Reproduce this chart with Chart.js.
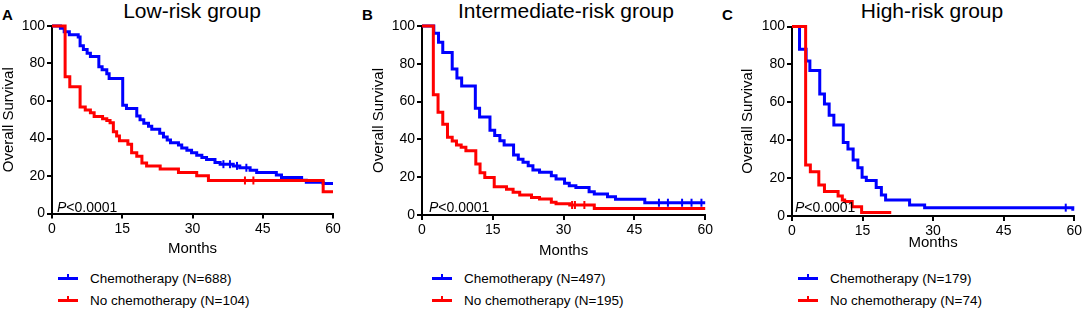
<!DOCTYPE html>
<html lang="en">
<head>
<meta charset="UTF-8">
<title>Overall survival by risk group</title>
<script src="https://cdn.jsdelivr.net/npm/chart.js"></script>
<style>
    * { margin: 0; padding: 0; box-sizing: border-box; }
    body {
        width: 1084px; height: 311px; background: #fff; position: relative; overflow: hidden;
        font-family: Arial, "Liberation Sans", sans-serif; color: #000;
    }
    canvas { position: absolute; top: 0; }
    .letter { position: absolute; top: 7px; font-size: 15px; font-weight: bold; line-height: 1; }
    .title { position: absolute; top: 0; font-size: 21px; line-height: 1; white-space: nowrap; transform: translateX(-50%); }
    .pval { position: absolute; top: 200px; font-size: 14px; line-height: 1; white-space: nowrap; }
    .key { position: absolute; font-size: 13.5px; line-height: 1; white-space: nowrap; }
    .mark { position: absolute; width: 20px; height: 3px; }
    .mark::after { content: ''; position: absolute; left: 9px; top: -3px; width: 2px; height: 4px; background: inherit; }
</style>
</head>
<body>
    <div class="letter" style="left:2px">A</div>
    <div class="title" style="left:192px">Low-risk group</div>
    <div class="letter" style="left:362px">B</div>
    <div class="title" style="left:566px">Intermediate-risk group</div>
    <div class="letter" style="left:722px">C</div>
    <div class="title" style="left:932px">High-risk group</div>

    <canvas id="chartA" width="350" height="264" style="left:0px"></canvas>
    <canvas id="chartB" width="345" height="264" style="left:370px"></canvas>
    <canvas id="chartC" width="345" height="264" style="left:739px"></canvas>

    <div class="pval" style="left:57px"><i>P</i>&lt;0.0001</div>
    <div class="pval" style="left:429px"><i>P</i>&lt;0.0001</div>
    <div class="pval" style="left:795px"><i>P</i>&lt;0.0001</div>

    <div id="legendA"></div>
    <div id="legendB"></div>
    <div id="legendC"></div>

<script>
    const BLUE = '#0000ff';
    const RED = '#ff0000';

    const xTicks = [0, 15, 30, 45, 60];
    const yTicks = [0, 20, 40, 60, 80, 100];

    // A: low-risk
    const lowChemoMonths = [0, 1.8, 2.6, 3.7, 5.6, 6.0, 6.7, 7.5, 8.2, 10.0, 10.7, 11.7, 12.2, 15.1, 15.9, 18.1, 18.8, 19.6, 20.6, 21.3, 23.0, 23.8, 24.6, 25.3, 27.0, 27.7, 28.8, 29.8, 30.9, 32.0, 33.0, 34.8, 35.9, 38.7, 40.1, 42.3, 43.7, 47.9, 49.0, 53.3, 54.3, 57.9, 60];
    const lowChemoSurv = [100, 98.8, 97, 95.3, 94.2, 89.5, 87.5, 85.5, 83.8, 78.3, 76.7, 74.5, 72, 57.8, 56, 52, 50, 48.2, 46.5, 45, 42.8, 40.8, 39.2, 37.8, 36.5, 35, 33.8, 32.4, 31.1, 29.9, 28.8, 27.2, 26.3, 25.4, 24.4, 23.1, 21.9, 20.5, 19.2, 17.8, 16.7, 16.0, 16.0];
    const lowNoMonths = [0, 2.8, 3.8, 6.0, 7.1, 8.2, 9.0, 10.8, 11.7, 12.4, 13.1, 13.8, 14.4, 16.2, 17.0, 18.1, 19.2, 20.2, 23.1, 27.0, 30.9, 33.4, 57.9, 60];
    const lowNoSurv = [100, 72.9, 67.6, 56.8, 55.2, 53.8, 51.8, 50.6, 49.6, 48.4, 43.6, 41.3, 38.8, 37, 32.4, 30.6, 27, 25.4, 23.7, 21.9, 20.1, 17.6, 11.6, 11.6];
    const lowChemoCensMonths = [36.6, 38.0, 39.5, 41.5];
    const lowChemoCensSurv = [26.3, 26.3, 25.4, 24.4];
    const lowNoCensMonths = [41.2, 43.0];
    const lowNoCensSurv = [17.6, 17.6];

    // B: intermediate-risk
    const midChemoMonths = [0, 2.5, 3.5, 4.4, 6.4, 7.4, 8.4, 11.3, 12.2, 14.4, 15.4, 16.5, 17.4, 19.4, 20.4, 21.4, 22.5, 23.5, 24.9, 27.4, 28.4, 30.2, 31.2, 32.6, 35.4, 36.5, 39.3, 41.0, 47.2, 60];
    const midChemoSurv = [100, 96.1, 91.4, 86, 77.3, 72.5, 68.2, 56.5, 51.8, 44.8, 42, 39.3, 37, 31.7, 29.5, 27.9, 26.1, 23.8, 22.6, 20.8, 19, 16.8, 15.5, 14.6, 12.3, 11.1, 9.7, 8.3, 6.5, 6.5];
    const midNoMonths = [0, 2.4, 3.4, 4.4, 5.4, 6.4, 7.3, 8.3, 9.3, 11.4, 12.3, 13.3, 15.3, 17.9, 19.3, 20.7, 23.2, 24.9, 27.4, 28.4, 31.3, 36.5, 60];
    const midNoSurv = [100, 63.6, 54.3, 48, 41.2, 39.2, 37, 35.8, 34, 27, 22.4, 19.8, 15, 13.6, 12, 10.6, 9.3, 8.5, 6.7, 6.0, 5.3, 3.5, 3.5];
    const midChemoCensMonths = [50.2, 52.1, 55.1, 57.1, 59.2];
    const midChemoCensSurv = [6.5, 6.5, 6.5, 6.5, 6.5];
    const midNoCensMonths = [31.8, 32.4, 34.4];
    const midNoCensSurv = [5.3, 5.3, 5.3];

    // C: high-risk
    const highChemoMonths = [0, 1.6, 3.0, 3.8, 5.9, 6.9, 7.9, 8.9, 10.9, 11.9, 13.0, 14.0, 14.9, 15.8, 17.9, 19.0, 19.9, 25.0, 28.2, 59.7, 60];
    const highChemoSurv = [100, 88, 81.8, 76.8, 64.4, 59.1, 53.2, 48, 38.8, 35.4, 29.6, 25.5, 20.4, 18.7, 15.1, 11.1, 8.5, 5.8, 4.4, 3.5, 3.5];
    const highNoMonths = [0, 2.9, 3.9, 5.7, 6.9, 9.8, 10.7, 11.2, 12.8, 14.8, 21.1];
    const highNoSurv = [100, 26.9, 23.4, 16.4, 12.9, 10.6, 8.5, 7.6, 4.9, 1.8, 1.8];
    const highChemoCensMonths = [58.2];
    const highChemoCensSurv = [4.4];

    const FONT = 'Arial, "Liberation Sans", sans-serif';
    Chart.defaults.font.family = FONT;
    Chart.defaults.color = '#000';

    const H = 264;

    function pts(xs, ys) {
        return xs.map((x, i) => ({ x: x, y: ys[i] }));
    }

    function curve(xs, ys, color) {
        return { type: 'line', data: pts(xs, ys), borderColor: color, borderWidth: 3, stepped: 'before',
                 pointRadius: 0, fill: false, clip: false, borderJoinStyle: 'miter' };
    }

    function censored(xs, ys, color) {
        return { type: 'scatter', data: pts(xs, ys), showLine: false, pointStyle: 'line', rotation: 90,
                 pointRadius: 4, pointBorderWidth: 2, borderColor: color, backgroundColor: color, clip: false };
    }

    function makeChart(id, box, datasets) {
        new Chart(document.getElementById(id), {
            type: 'line',
            data: { datasets: datasets },
            options: {
                responsive: false,
                animation: false,
                devicePixelRatio: 1,
                layout: { padding: { top: box.top, right: box.width - (box.plotRight - box.left), left: 0, bottom: 0 } },
                plugins: { legend: { display: false }, tooltip: { enabled: false } },
                scales: {
                    x: {
                        type: 'linear',
                        min: xTicks[0], max: xTicks[xTicks.length - 1],
                        afterBuildTicks: s => { s.ticks = xTicks.map(v => ({ value: v })); },
                        ticks: { color: '#000', font: { size: 14 }, padding: 2, maxRotation: 0, autoSkip: false },
                        grid: { drawOnChartArea: false, drawTicks: true, tickLength: 5, color: '#000', lineWidth: 2 },
                        border: { display: true, color: '#000', width: 2 },
                        title: { display: true, text: 'Months', color: '#000', font: { size: 15 },
                                 padding: { top: 0, bottom: box.monthsPad } },
                        afterFit: s => { s.height = H - box.plotBottom; }
                    },
                    y: {
                        min: yTicks[0], max: yTicks[yTicks.length - 1],
                        afterBuildTicks: s => { s.ticks = yTicks.map(v => ({ value: v })); },
                        ticks: { color: '#000', font: { size: 14 }, padding: 2 },
                        grid: { drawOnChartArea: false, drawTicks: true, tickLength: 5, color: '#000', lineWidth: 2 },
                        border: { display: true, color: '#000', width: 2 },
                        title: { display: true, text: 'Overall Survival', color: '#000', font: { size: 15 },
                                 padding: { top: 0, bottom: 0 } },
                        afterFit: s => { s.width = box.plotLeft - box.left; }
                    }
                }
            }
        });
    }

    function legend(id, left, chemoLabel, noLabel) {
        const el = document.getElementById(id);
        el.innerHTML =
            '<div class="mark" style="left:' + left + 'px;top:277px;background:' + BLUE + '"></div>' +
            '<div class="key" style="left:' + (left + 32) + 'px;top:272px">' + chemoLabel + '</div>' +
            '<div class="mark" style="left:' + left + 'px;top:298.5px;background:' + RED + '"></div>' +
            '<div class="key" style="left:' + (left + 32) + 'px;top:293.5px">' + noLabel + '</div>';
    }

    makeChart('chartA', { left: 0, width: 350, top: 26, plotLeft: 52, plotRight: 333, plotBottom: 213.5, monthsPad: 6 }, [
        curve(lowNoMonths, lowNoSurv, RED),
        censored(lowNoCensMonths, lowNoCensSurv, RED),
        curve(lowChemoMonths, lowChemoSurv, BLUE),
        censored(lowChemoCensMonths, lowChemoCensSurv, BLUE)
    ]);

    makeChart('chartB', { left: 370, width: 345, top: 26, plotLeft: 422, plotRight: 707, plotBottom: 215, monthsPad: 4 }, [
        curve(midNoMonths, midNoSurv, RED),
        censored(midNoCensMonths, midNoCensSurv, RED),
        curve(midChemoMonths, midChemoSurv, BLUE),
        censored(midChemoCensMonths, midChemoCensSurv, BLUE)
    ]);

    makeChart('chartC', { left: 739, width: 345, top: 26.5, plotLeft: 792, plotRight: 1076, plotBottom: 216, monthsPad: 12.5 }, [
        curve(highNoMonths, highNoSurv, RED),
        curve(highChemoMonths, highChemoSurv, BLUE),
        censored(highChemoCensMonths, highChemoCensSurv, BLUE)
    ]);

    legend('legendA', 58, 'Chemotherapy (N=688)', 'No chemotherapy (N=104)');
    legend('legendB', 432, 'Chemotherapy (N=497)', 'No chemotherapy (N=195)');
    legend('legendC', 798, 'Chemotherapy (N=179)', 'No chemotherapy (N=74)');
</script>
</body>
</html>
